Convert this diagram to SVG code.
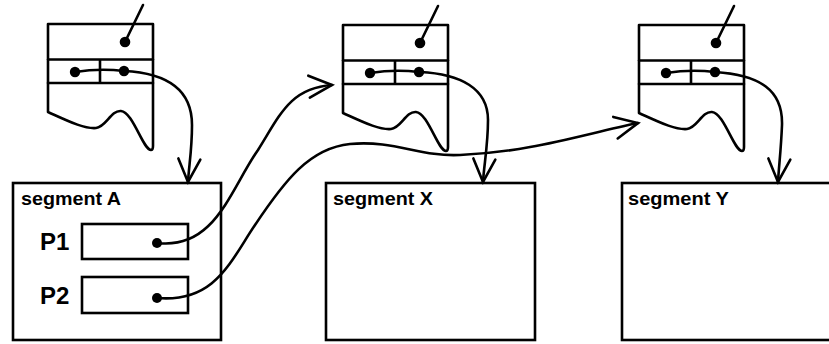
<svg xmlns="http://www.w3.org/2000/svg" width="829" height="344" viewBox="0 0 829 344">
<style>
.ln{fill:none;stroke:#000;stroke-width:2.6;stroke-linejoin:round;stroke-linecap:round}
.box{fill:#fff;stroke:#000;stroke-width:2.6}
.dot{fill:#000}
.seg{font-family:"Liberation Sans",Arial,sans-serif;font-weight:bold;font-size:19px;fill:#000}
.pl{font-family:"Liberation Sans",Arial,sans-serif;font-weight:bold;font-size:24px;fill:#000}
</style>
<defs>
<marker id="ah" markerUnits="userSpaceOnUse" viewBox="-26 -14 30 28" markerWidth="30" markerHeight="28" refX="0" refY="0" orient="auto" overflow="visible">
<path d="M-23,-11 L0,0 L-23,11" fill="none" stroke="#000" stroke-width="2.6" stroke-linejoin="miter" stroke-linecap="round"/>
</marker>
<g id="desc">
<path class="ln" d="M153,24 H48 V112 C68,121 84,129 96,128 C106,127 111,110 121,111 C133,112 143,150 151,150 C153,150 153,148 153,146 Z" fill="#fff"/>
<path class="ln" d="M48,59.5 H153 M48,83 H153 M100,59.5 V83"/>
<path class="ln" d="M125,42 L143,5"/>
<circle class="dot" cx="125" cy="42" r="5.3"/>
<path class="ln" d="M75,72 Q100,68 124,71"/>
<circle class="dot" cx="75" cy="72" r="5.2"/>
<circle class="dot" cx="124" cy="71" r="5.2"/>
</g>
</defs>
<rect width="829" height="344" fill="#fff"/>
<g id="descriptor1"><use href="#desc"/></g>
<g id="descriptor2"><use href="#desc" transform="translate(295,1)"/></g>
<g id="descriptor3"><use href="#desc" transform="translate(591,1)"/></g>
<g id="segmentA">
<rect class="box" x="13" y="183" width="208" height="157"/>
<text class="seg" x="21" y="205" textLength="100" lengthAdjust="spacingAndGlyphs">segment A</text>
<text class="pl" x="40" y="250">P1</text>
<rect class="box" x="82" y="224" width="106" height="35"/>
<circle class="dot" cx="157" cy="243" r="5"/>
<text class="pl" x="40" y="304">P2</text>
<rect class="box" x="82" y="277" width="106" height="36"/>
<circle class="dot" cx="157" cy="298" r="5"/>
</g>
<g id="segmentX">
<rect class="box" x="326" y="183" width="209" height="157"/>
<text class="seg" x="333" y="205" textLength="100" lengthAdjust="spacingAndGlyphs">segment X</text>
</g>
<g id="segmentY">
<rect class="box" x="622" y="183" width="215" height="157"/>
<text class="seg" x="628" y="205" textLength="101" lengthAdjust="spacingAndGlyphs">segment Y</text>
</g>
<g id="connectors">
<path class="ln" marker-end="url(#ah)" d="M124,71 C165,73 192,88 192,125 C192,150 189,165 188,182"/>
<path class="ln" marker-end="url(#ah)" d="M420,72 C460,74 488,88 488,120 C488,145 484,165 483,182"/>
<path class="ln" marker-end="url(#ah)" d="M715,72 C760,75 783,90 782,125 C781,150 779,165 778,182"/>
<path class="ln" marker-end="url(#ah)" d="M157,243 C215,250 230,190 258,150 C280,115 290,88 332,85"/>
<path class="ln" marker-end="url(#ah)" d="M157,298 C215,303 230,262 255,225 C285,180 310,148 350,144 C395,140 420,157 460,155 C530,152 580,135 638,123"/>
</g>
</svg>
